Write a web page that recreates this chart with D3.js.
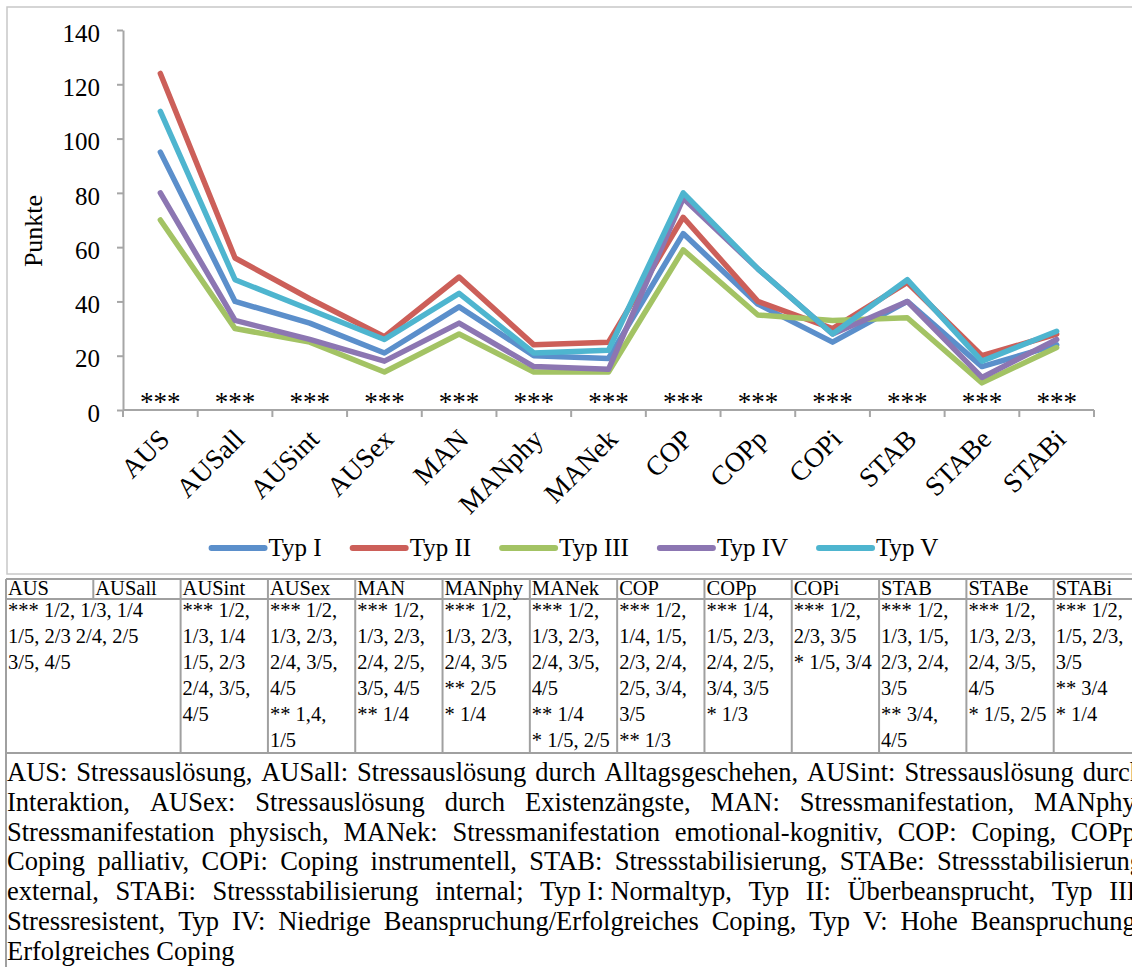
<!DOCTYPE html>
<html><head><meta charset="utf-8">
<script src="https://cdn.jsdelivr.net/npm/d3@7"></script>
<style>
html,body{margin:0;padding:0;background:#fff;}
svg{display:block;}
</style></head><body>
<svg id="c" width="1132" height="967"></svg>
<script>
// ---------- DATA ----------
const categories = ["AUS","AUSall","AUSint","AUSex","MAN","MANphy","MANek","COP","COPp","COPi","STAB","STABe","STABi"];
const seriesNames = ["Typ I","Typ II","Typ III","Typ IV","Typ V"];
const seriesColors = ["#5B8FCB","#CC5F59","#A3C364","#8C76B2","#4EB5CF"];
const typI   = [95, 40, 32, 21, 38, 20, 19, 65, 39, 25, 40, 16, 24];
const typII  = [124, 56, 41, 27, 49, 24, 25, 71, 40, 30, 47, 20, 28];
const typIII = [70, 30, 25, 14, 28, 14, 14, 59, 35, 33, 34, 10, 23];
const typIV  = [80, 33, 26, 18, 32, 16, 15, 78, 52, 28, 40, 12, 26];
const typV   = [110, 48, 37, 26, 43, 21, 22, 80, 52, 28, 48, 18, 29];
const significance = ["***","***","***","***","***","***","***","***","***","***","***","***","***"];
const yTicks = [0, 20, 40, 60, 80, 100, 120, 140];
const yLabel = "Punkte";

const tableHeaders = ["AUS","AUSall","AUSint","AUSex","MAN","MANphy","MANek","COP","COPp","COPi","STAB","STABe","STABi"];
const cellSpans = [2, 1, 1, 1, 1, 1, 1, 1, 1, 1, 1, 1];
const cellLines = [
  ["*** 1/2, 1/3, 1/4", "1/5, 2/3 2/4, 2/5", "3/5, 4/5"],
  ["*** 1/2,", "1/3, 1/4", "1/5, 2/3", "2/4, 3/5,", "4/5"],
  ["*** 1/2,", "1/3, 2/3,", "2/4, 3/5,", "4/5", "** 1,4,", "1/5"],
  ["*** 1/2,", "1/3, 2/3,", "2/4, 2/5,", "3/5, 4/5", "** 1/4"],
  ["*** 1/2,", "1/3, 2/3,", "2/4, 3/5", "** 2/5", "* 1/4"],
  ["*** 1/2,", "1/3, 2/3,", "2/4, 3/5,", "4/5", "** 1/4", "* 1/5, 2/5"],
  ["*** 1/2,", "1/4, 1/5,", "2/3, 2/4,", "2/5, 3/4,", "3/5", "** 1/3"],
  ["*** 1/4,", "1/5, 2/3,", "2/4, 2/5,", "3/4, 3/5", "* 1/3"],
  ["*** 1/2,", "2/3, 3/5", "* 1/5, 3/4"],
  ["*** 1/2,", "1/3, 1/5,", "2/3, 2/4,", "3/5", "** 3/4,", "4/5"],
  ["*** 1/2,", "1/3, 2/3,", "2/4, 3/5,", "4/5", "* 1/5, 2/5"],
  ["*** 1/2,", "1/5, 2/3,", "3/5", "** 3/4", "* 1/4"]
];
const footnoteLines = [
  "AUS: Stressauslösung, AUSall: Stressauslösung durch Alltagsgeschehen, AUSint: Stressauslösung durch",
  "Interaktion, AUSex: Stressauslösung durch Existenzängste, MAN: Stressmanifestation, MANphy:",
  "Stressmanifestation physisch, MANek: Stressmanifestation emotional-kognitiv, COP: Coping, COPp:",
  "Coping palliativ, COPi: Coping instrumentell, STAB: Stressstabilisierung, STABe: Stressstabilisierung",
  "external, STABi: Stressstabilisierung internal; Typ\u00A0I:\u00A0Normaltyp, Typ II: Überbeansprucht, Typ III:",
  "Stressresistent, Typ IV: Niedrige Beanspruchung/Erfolgreiches Coping, Typ V: Hohe Beanspruchung/",
  "Erfolgreiches Coping"
];

// ---------- LAYOUT ----------
const FONT = "'Liberation Serif','Times New Roman',Times,serif";
const svg = d3.select("#c").attr("font-family", FONT);
const plot = {left: 123, right: 1094, top: 30, bottom: 410};
const x = d3.scaleBand().domain(categories).range([plot.left, plot.right]);
const y = d3.scaleLinear().domain([0, 140]).range([plot.bottom, plot.top]);
const cx = c => x(c) + x.bandwidth() / 2;
const AXIS = "#a6a6a6";

// chart frame
svg.append("rect").attr("x", 7).attr("y", 7).attr("width", 1140).attr("height", 567)
  .attr("fill", "none").attr("stroke", "#c8c8c8").attr("stroke-width", 1.5);

// y axis
const gy = svg.append("g").attr("transform", `translate(${plot.left},0)`)
  .call(d3.axisLeft(y).tickValues(yTicks).tickSize(6).tickSizeOuter(0).tickPadding(17));
gy.attr("font-family", FONT).attr("font-size", 25);
gy.select(".domain").attr("stroke", AXIS).attr("stroke-width", 2);
gy.selectAll(".tick line").attr("stroke", AXIS).attr("stroke-width", 2);
gy.selectAll(".tick text").attr("fill", "#000").attr("dy", "0.45em");

// y label
svg.append("text").attr("transform", `translate(42,231) rotate(-90)`)
  .attr("text-anchor", "middle").attr("font-size", 26).text(yLabel);

// x axis
const bounds = categories.map(c => x(c)).concat([x.range()[1]]);
svg.append("line").attr("x1", plot.left).attr("x2", plot.right)
  .attr("y1", y(0)).attr("y2", y(0)).attr("stroke", AXIS).attr("stroke-width", 2);
svg.selectAll(".xtick").data(bounds).join("line").attr("class", "xtick")
  .attr("x1", d => d).attr("x2", d => d).attr("y1", y(0)).attr("y2", y(0) + 7)
  .attr("stroke", AXIS).attr("stroke-width", 2);
svg.selectAll(".xlab").data(categories).join("text").attr("class", "xlab")
  .attr("transform", d => `translate(${cx(d) - 2},${y(0) + 18}) rotate(-45)`)
  .attr("text-anchor", "end").attr("dy", "0.66em").attr("font-size", 27.5).text(d => d);

// significance stars
svg.selectAll(".sig").data(significance).join("text").attr("class", "sig")
  .attr("x", (d, i) => cx(categories[i])).attr("y", y(0) + 1)
  .attr("text-anchor", "middle").attr("font-size", 27).text(d => d);

// series lines
const seriesData = [typI, typII, typIII, typIV, typV];
const line = d3.line().x((d, i) => cx(categories[i])).y(d => y(d));
svg.selectAll(".series").data(seriesData).join("path").attr("class", "series")
  .attr("d", line).attr("fill", "none")
  .attr("stroke", (d, i) => seriesColors[i]).attr("stroke-width", 5.5)
  .attr("stroke-linejoin", "round").attr("stroke-linecap", "round");

// legend
const legend = svg.append("g");
const legY = 548;
let items = seriesNames.map((n, i) => {
  const g = legend.append("g");
  g.append("line").attr("x1", 0).attr("x2", 53).attr("y1", legY).attr("y2", legY)
    .attr("stroke", seriesColors[i]).attr("stroke-width", 6).attr("stroke-linecap", "round");
  const t = g.append("text").attr("x", 57).attr("y", legY + 8).attr("font-size", 25).text(n);
  return {g, w: 57 + t.node().getComputedTextLength()};
});
const gap = 31;
const total = d3.sum(items, d => d.w) + gap * (items.length - 1);
let lx = 575 - total / 2;
items.forEach(it => { it.g.attr("transform", `translate(${lx},0)`); lx += it.w + gap; });

// ---------- TABLE ----------
const col = d3.scaleBand().domain(tableHeaders).range([6, 1141]);
const T = {top: 579, head: 599, bottom: 753, end: 1000};
const TB = "#a0a0a0";
const TF = 20.5;
const tg = svg.append("g");
[T.top, T.head, T.bottom].forEach(yy => tg.append("line")
  .attr("x1", 6).attr("x2", 1141).attr("y1", yy).attr("y2", yy).attr("stroke", TB).attr("stroke-width", 2));
tg.append("line").attr("x1", 6).attr("x2", 6).attr("y1", T.top).attr("y2", T.end).attr("stroke", TB).attr("stroke-width", 2);
const colEdges = tableHeaders.map(h => col(h)).concat([col.range()[1]]);
colEdges.forEach(xx => tg.append("line").attr("x1", xx).attr("x2", xx)
  .attr("y1", T.top).attr("y2", T.head).attr("stroke", TB).attr("stroke-width", 2));
// body cells
let ci = 0;
const cellStarts = [];
cellSpans.forEach(s => { cellStarts.push(ci); ci += s; });
cellStarts.concat([tableHeaders.length]).forEach(k => {
  const xx = k < tableHeaders.length ? col(tableHeaders[k]) : col.range()[1];
  tg.append("line").attr("x1", xx).attr("x2", xx).attr("y1", T.head).attr("y2", T.bottom)
    .attr("stroke", TB).attr("stroke-width", 2);
});
tg.selectAll(".th").data(tableHeaders).join("text").attr("class", "th")
  .attr("x", d => col(d) + 2).attr("y", 595).attr("font-size", TF).text(d => d);
cellLines.forEach((lines, k) => {
  const x0 = col(tableHeaders[cellStarts[k]]) + 2;
  tg.selectAll(null).data(lines).join("text")
    .attr("x", x0).attr("y", (d, j) => 617 + j * 26).attr("font-size", TF).text(d => d);
});

// ---------- FOOTNOTE ----------
const fg = svg.append("g").attr("font-size", 26.5);
const FL = 7, FR = 1143, FB = 781, FS = 29.8;
footnoteLines.forEach((ln, i) => {
  const yy = FB + i * FS;
  const words = ln.split(" ");
  if (i === footnoteLines.length - 1) {
    fg.append("text").attr("x", FL).attr("y", yy).text(ln);
    return;
  }
  const nodes = words.map(w => fg.append("text").attr("y", yy).text(w));
  const widths = nodes.map(n => n.node().getComputedTextLength());
  const sp = (FR - FL - d3.sum(widths)) / (words.length - 1);
  let xx = FL;
  nodes.forEach((n, j) => { n.attr("x", xx); xx += widths[j] + sp; });
});
</script>
</body></html>
